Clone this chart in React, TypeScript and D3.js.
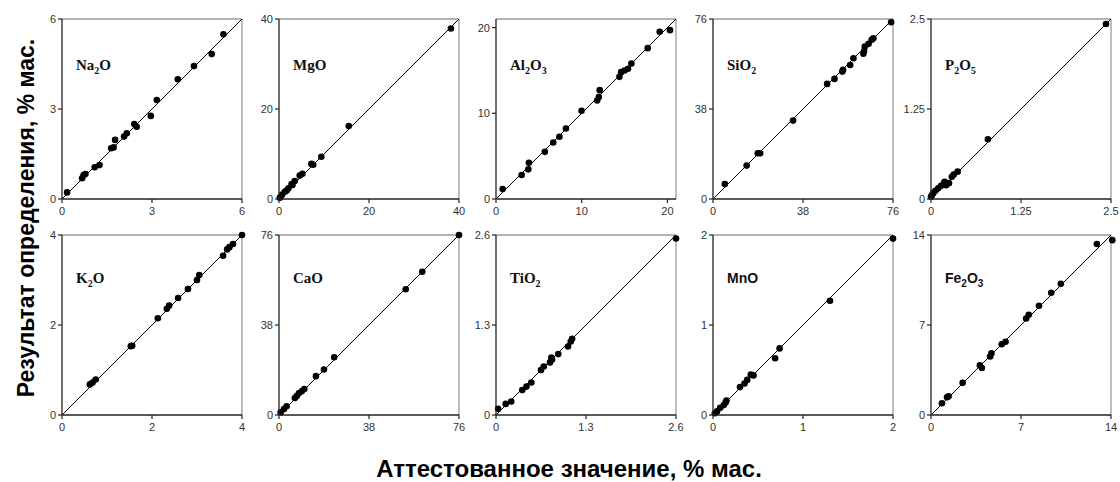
import React from "react";
import * as d3 from "d3";

// ---- data ----
const oxides = ["Na2O", "MgO", "Al2O3", "SiO2", "P2O5", "K2O", "CaO", "TiO2", "MnO", "Fe2O3"];
const axisMax = [6, 40, 21, 76, 2.5, 4, 76, 2.6, 2, 14];
const tickLabels = [
  [0, 3, 6], [0, 20, 40], [0, 10, 20], [0, 38, 76], [0, 1.25, 2.5],
  [0, 2, 4], [0, 38, 76], [0, 1.3, 2.6], [0, 1, 2], [0, 7, 14],
];
const sansLabel = [false, false, false, false, false, false, false, false, true, true];

const na2oCert = [0.17, 0.67, 0.78, 1.09, 1.25, 1.64, 1.72, 1.77, 2.07, 2.16, 2.41, 2.49, 2.96, 3.16, 3.86, 4.4, 4.99, 5.38, 0.72];
const na2oMeas = [0.22, 0.69, 0.83, 1.06, 1.13, 1.69, 1.72, 1.97, 2.08, 2.19, 2.5, 2.41, 2.77, 3.3, 3.99, 4.43, 4.83, 5.49, 0.8];
const mgoCert = [38.2, 15.5, 9.4, 7.2, 5.2, 4.6, 3.5, 2.8, 2.1, 1.3, 0.7, 0.4, 7.6, 3.0, 1.7, 0.2];
const mgoMeas = [37.9, 16.2, 9.4, 7.8, 5.6, 5.2, 4.0, 3.3, 2.4, 1.6, 1.0, 0.5, 7.6, 3.1, 1.9, 0.3];
const al2o3Cert = [0.78, 2.99, 3.77, 3.84, 5.7, 6.68, 7.4, 8.16, 9.98, 11.8, 12.0, 12.1, 14.4, 14.6, 15.0, 15.4, 15.8, 17.7, 19.1, 20.3];
const al2o3Meas = [1.17, 2.8, 3.46, 4.23, 5.5, 6.6, 7.26, 8.23, 10.3, 11.5, 11.9, 12.7, 14.25, 14.8, 15.0, 15.2, 15.8, 17.6, 19.5, 19.7];
const sio2Cert = [5.0, 14.2, 18.9, 19.9, 33.8, 48.2, 51.3, 54.6, 54.9, 57.9, 59.3, 63.5, 64.1, 65.7, 67.0, 67.7, 75.2, 63.8];
const sio2Meas = [6.3, 14.1, 19.3, 19.3, 33.1, 48.6, 50.7, 53.8, 54.5, 56.6, 59.4, 61.3, 64.4, 65.5, 67.2, 67.9, 74.6, 62.5];
const p2o5Cert = [2.43, 0.79, 0.37, 0.316, 0.29, 0.19, 0.18, 0.14, 0.1, 0.06, 0.03, 0.014, 0.0, 0.21, 0.25];
const p2o5Meas = [2.43, 0.83, 0.38, 0.34, 0.31, 0.24, 0.22, 0.185, 0.15, 0.115, 0.08, 0.055, 0.03, 0.19, 0.22];
const k2oCert = [4.0, 3.8, 3.72, 3.67, 3.58, 3.05, 3.0, 2.8, 2.58, 2.38, 2.33, 2.13, 1.53, 1.56, 0.75, 0.68, 0.62];
const k2oMeas = [4.0, 3.8, 3.73, 3.68, 3.54, 3.11, 3.0, 2.8, 2.6, 2.43, 2.36, 2.15, 1.53, 1.54, 0.79, 0.72, 0.68];
const caoCert = [76, 60.5, 53.5, 23.3, 19.0, 15.6, 10.7, 9.6, 8.4, 6.7, 3.2, 2.1, 0.7, 7.5];
const caoMeas = [76, 60.5, 53.1, 24.4, 19.2, 16.4, 11.0, 10.0, 9.2, 7.2, 3.7, 2.5, 1.1, 8.0];
const tio2Cert = [2.6, 1.1, 1.08, 1.04, 0.9, 0.81, 0.78, 0.69, 0.65, 0.51, 0.44, 0.38, 0.22, 0.14, 0.03, 0.8];
const tio2Meas = [2.55, 1.1, 1.06, 0.99, 0.88, 0.8, 0.76, 0.7, 0.65, 0.47, 0.41, 0.36, 0.195, 0.16, 0.09, 0.83];
const mnoCert = [2.0, 1.3, 0.74, 0.69, 0.45, 0.42, 0.38, 0.35, 0.3, 0.14, 0.12, 0.08, 0.045, 0.02, 0.15];
const mnoMeas = [1.96, 1.27, 0.74, 0.63, 0.44, 0.45, 0.39, 0.35, 0.31, 0.14, 0.11, 0.08, 0.04, 0.02, 0.16];
const fe2o3Cert = [14.1, 12.9, 10.1, 9.35, 8.4, 7.6, 7.4, 5.8, 5.5, 4.7, 4.6, 3.96, 3.8, 2.46, 1.37, 1.25, 0.85];
const fe2o3Meas = [13.6, 13.3, 10.2, 9.5, 8.5, 7.8, 7.5, 5.7, 5.5, 4.8, 4.55, 3.65, 3.86, 2.5, 1.46, 1.38, 0.91];

const certified = [na2oCert, mgoCert, al2o3Cert, sio2Cert, p2o5Cert, k2oCert, caoCert, tio2Cert, mnoCert, fe2o3Cert];
const measured = [na2oMeas, mgoMeas, al2o3Meas, sio2Meas, p2o5Meas, k2oMeas, caoMeas, tio2Meas, mnoMeas, fe2o3Meas];

const xTitle = "Аттестованное значение, % мас.";
const yTitle = "Результат определения, % мас.";

// ---- layout ----
const colLeft = [62, 279, 496, 713, 931];
const rowTop = [19, 235];
const SIZE = 180;

function Label({ text, sans }: { text: string; sans: boolean }) {
  const parts = text.match(/[A-Za-z]+|\d+/g) || [];
  return (
    <text
      fontFamily={sans ? "Liberation Sans, Arial, sans-serif" : "Liberation Serif, Times New Roman, serif"}
      fontWeight="bold"
      fontSize={sans ? 14 : 15}
      fill="#111"
    >
      {parts.map((p, i) =>
        /\d/.test(p) ? (
          <tspan key={i} fontSize={10} dy={4}>{p}</tspan>
        ) : (
          <tspan key={i} dy={i > 0 && /\d/.test(parts[i - 1]) ? -4 : 0}>{p}</tspan>
        )
      )}
    </text>
  );
}

function Panel({ idx }: { idx: number }) {
  const left = colLeft[idx % 5];
  const top = rowTop[Math.floor(idx / 5)];
  const max = axisMax[idx];
  const x = d3.scaleLinear().domain([0, max]).range([0, SIZE]);
  const y = d3.scaleLinear().domain([0, max]).range([SIZE, 0]);
  const ticks = tickLabels[idx];
  const xs = certified[idx];
  const ys = measured[idx];
  const diag = d3.line<number>().x((d) => x(d)).y((d) => y(d))([0, max]) || "";
  return (
    <g transform={`translate(${left},${top})`}>
      <line x1={0} y1={0} x2={SIZE} y2={0} stroke="#9a9a9a" strokeWidth={1.3} />
      <line x1={SIZE} y1={0} x2={SIZE} y2={SIZE} stroke="#9a9a9a" strokeWidth={1.3} />
      <path d={diag} stroke="#000" strokeWidth={1} fill="none" />
      {xs.map((v, i) => (
        <circle key={i} cx={x(v)} cy={y(ys[i])} r={3.3} fill="#000" />
      ))}
      <line x1={0} y1={0} x2={0} y2={SIZE} stroke="#222" strokeWidth={1.3} />
      <line x1={0} y1={SIZE} x2={SIZE} y2={SIZE} stroke="#222" strokeWidth={1.3} />
      {ticks.map((t, i) => (
        <g key={"y" + i}>
          <line x1={-4} x2={0} y1={y(t)} y2={y(t)} stroke="#222" strokeWidth={1.2} />
          <text x={-6} y={y(t) + 4} textAnchor="end" fontSize={11} fill="#333"
            fontFamily="Liberation Sans, Arial, sans-serif">{String(t)}</text>
        </g>
      ))}
      {ticks.map((t, i) => (
        <g key={"x" + i}>
          <line x1={x(t)} x2={x(t)} y1={SIZE} y2={SIZE + 4} stroke="#222" strokeWidth={1.2} />
          <text x={x(t)} y={SIZE + 16} textAnchor="middle" fontSize={11} fill="#333"
            fontFamily="Liberation Sans, Arial, sans-serif">{String(t)}</text>
        </g>
      ))}
      <g transform={`translate(14,${idx < 5 ? 51 : 48})`}>
        <Label text={oxides[idx]} sans={sansLabel[idx]} />
      </g>
    </g>
  );
}

export default function App() {
  return (
    <svg width={1120} height={482} style={{ position: "absolute", left: 0, top: 0, background: "#fff" }}>
      <rect width={1120} height={482} fill="#fff" />
      {oxides.map((_, i) => (
        <Panel key={i} idx={i} />
      ))}
      <text x={569} y={477} textAnchor="middle" fontSize={24} fontWeight="bold"
        fontFamily="Liberation Sans, Arial, sans-serif" fill="#000">{xTitle}</text>
      <text transform="translate(34,218) rotate(-90)" textAnchor="middle" fontSize={23} fontWeight="bold"
        fontFamily="Liberation Sans, Arial, sans-serif" fill="#000">{yTitle}</text>
    </svg>
  );
}
